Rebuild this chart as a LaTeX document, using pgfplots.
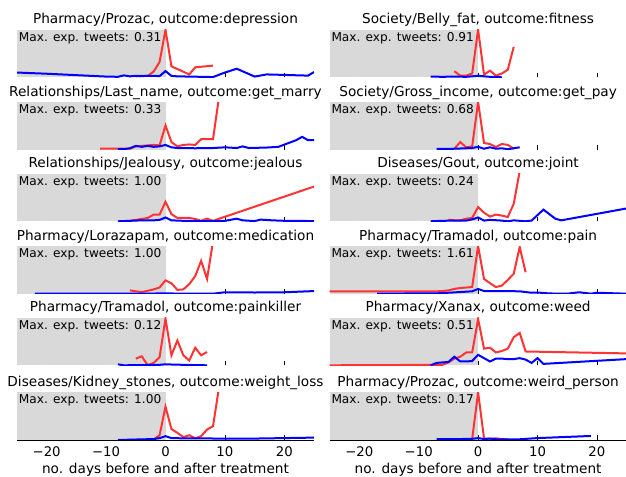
\documentclass[border=0pt]{standalone}
\usepackage{fontspec}
\setmainfont{DejaVu Sans}
\usepackage{pgfplots}
\pgfplotsset{compat=1.18}
\definecolor{myred}{RGB}{255,51,51}
\definecolor{myblue}{RGB}{0,0,255}
\definecolor{shadegray}{RGB}{217,217,217}
\newcommand\fs{\fontsize{13.3}{16}\selectfont}
\newcommand\fsT{\fontsize{13.7}{16}\selectfont}
\newcommand\fsS{\fontsize{12.2}{15}\selectfont}
\pgfplotsset{
  panel/.style={
    scale only axis, width=297bp, height=47.6bp,
    xmin=-25, xmax=25, ymin=0, ymax=1,
    axis x line*=bottom, axis y line=none,
    xtick={-20,-10,0,10,20}, ytick=\empty,
    tick align=inside, major tick length=4.5bp,
    tick style={black, line width=0.8bp},
    every axis title shift=0pt,
    title style={at={(0.5,1)}, anchor=base, yshift=5.7bp, inner sep=0pt, font=\fsT},
    anchor=south west,
  },
  upper/.style={xticklabels={}, x axis line style={draw=none}},
  lower/.style={
    xticklabels={−20,−10,0,10,20},
    xticklabel style={inner sep=0pt, font=\fs, yshift=-6.7bp},
    xlabel={no. days before and after treatment},
    xlabel style={at={(0.5,0)}, anchor=base, yshift=-33bp, inner sep=0pt, font=\fsT},
    x axis line style={black, line width=0.8bp},
  },
  redl/.style={myred, line width=2bp},
  bluel/.style={myblue, line width=2bp},
}
\newcommand\shadearea{\addplot[fill=shadegray, draw=none] coordinates {(-25,1) (0,1)} \closedcycle;}
\newcommand\maxtxt[1]{\node[anchor=north west, inner sep=0pt, font=\fsS, xshift=1.7bp, yshift=-2.3bp] at (rel axis cs:0,1) {Max. exp. tweets: #1};}
\begin{document}
\begin{tikzpicture}
\useasboundingbox (0,0) rectangle (626bp,477bp);
% ---------------- left column ----------------
\begin{axis}[panel, upper, at={(17bp,399.7bp)}, title={Pharmacy/Prozac, outcome:depression}]
\shadearea
\addplot[redl] coordinates {(-5,0.02) (-4,0.03) (-3,0.03) (-2,0.12) (-1,0.32) (0,1.0) (1,0.23) (4,0.06) (5,0.21) (8,0.245)};
\addplot[bluel] coordinates {(-25,0.10) (-20,0.075) (-15,0.045) (-10,0.015) (-8,0.01) (-7,0.04) (-6,0.02) (-5,0.03) (-4,0.025) (-3,0.03) (-2,0.03) (-1,0.025) (0,0.13) (1,0.03) (2,0.02) (4,0.015) (6,0.01) (8,0.005) (10,0.1) (12,0.18) (15,0.015) (17,0.06) (20,0.05) (24,0.035) (25,0.11)};
\maxtxt{0.31}
\end{axis}
\begin{axis}[panel, upper, at={(17bp,327.3bp)}, title={Relationships/Last\_name, outcome:get\_marry}]
\shadearea
\addplot[redl] coordinates {(-11,0.02) (-10,0.02) (-9,0.02) (-8,0.02) (-7,0.02) (-6,0.02) (-5,0.07) (-4,0.08) (-3,0.09) (-2,0.1) (-1,0.09) (0,0.51) (1,0.16) (2,0.07) (3,0.1) (4,0.11) (5,0.1) (6,0.22) (7,0.22) (8,0.22) (9,1.1)};
\addplot[bluel] coordinates {(-8,0.01) (-7,0.01) (-6,0.03) (-5,0.08) (-4,0.06) (-3,0.08) (-2,0.06) (-1,0.07) (0,0.1) (1,0.05) (2,0.035) (5,0.03) (8,0.035) (10,0.05) (12,0.035) (13,0.07) (14,0.035) (17,0.045) (19,0.06) (22,0.2) (23,0.27) (24,0.2) (25,0.2)};
\maxtxt{0.33}
\end{axis}
\begin{axis}[panel, upper, at={(17bp,255.7bp)}, title={Relationships/Jealousy, outcome:jealous}]
\shadearea
\addplot[redl] coordinates {(-6,0.01) (-5,0.03) (-4,0.05) (-3,0.07) (-2,0.14) (-1,0.14) (0,0.41) (1,0.15) (2,0.07) (3,0.07) (4,0.07) (5,0.05) (6,0.01) (7,0.055) (8,0.01) (25,0.73)};
\addplot[bluel] coordinates {(-8,0.0) (-6,0.01) (-4,0.02) (-2,0.02) (-1,0.03) (0,0.08) (1,0.02) (3,0.01) (6,0.005) (9,0.005) (10,0.01) (12,0.055) (13,0.02) (15,0.005) (16,0.035) (18,0.02) (20,0.01) (25,0.005)};
\maxtxt{1.00}
\end{axis}
\begin{axis}[panel, upper, at={(17bp,183.3bp)}, title={Pharmacy/Lorazapam, outcome:medication}]
\shadearea
\addplot[redl] coordinates {(-6,0.07) (-5,0.05) (-4,0.035) (-3,0.06) (-2,0.09) (-1,0.13) (0,0.28) (1,0.22) (2,0.08) (3,0.09) (4,0.2) (5,0.37) (6,0.69) (7,0.31) (8,1.1)};
\addplot[bluel] coordinates {(-22,0.0) (-10,0.0) (0,0.005) (8,0.0) (10,0.03) (15,0.025) (20,0.03) (25,0.055)};
\maxtxt{1.00}
\end{axis}
\begin{axis}[panel, upper, at={(17bp,111.7bp)}, title={Pharmacy/Tramadol, outcome:painkiller}]
\shadearea
\addplot[redl] coordinates {(-5,0.14) (-4,0.19) (-3,0.0) (-2,0.05) (-1,0.17) (0,0.98) (1,0.21) (2,0.52) (3,0.21) (4,0.1) (5,0.37) (6,0.21) (7,0.28)};
\addplot[bluel] coordinates {(-8,0.02) (-7,0.0) (-4,0.005) (-1,0.01) (0,0.02) (3,0.01) (7,0.0)};
\maxtxt{0.12}
\end{axis}
\begin{axis}[panel, lower, at={(17bp,37bp)}, title={Diseases/Kidney\_stones, outcome:weight\_loss}]
\shadearea
\addplot[redl] coordinates {(-6,0.0) (-3,0.0) (-2,0.01) (-1,0.1) (0,0.70) (1,0.23) (2,0.15) (3,0.06) (4,0.1) (5,0.035) (6,0.08) (7,0.22) (8,0.29) (9,1.1)};
\addplot[bluel] coordinates {(-8,0.0) (-5,0.01) (-2,0.02) (-1,0.04) (0,0.08) (1,0.04) (3,0.035) (10,0.03) (15,0.03) (20,0.04) (25,0.05)};
\maxtxt{1.00}
\end{axis}
% ---------------- right column ----------------
\begin{axis}[panel, upper, at={(329.6bp,399.7bp)}, title={Society/Belly\_fat, outcome:fitness}]
\shadearea
\addplot[redl] coordinates {(-4,0.126) (-3,0.035) (-2,0.035) (-1,0.08) (0,1.0) (1,0.056) (2,0.14) (3,0.035) (4,0.08) (5,0.16) (6,0.64)};
\addplot[bluel] coordinates {(-8,0.015) (-6,0.01) (-4,0.015) (-2,0.01) (0,0.03) (2,0.01) (4,0.0)};
\maxtxt{0.91}
\end{axis}
\begin{axis}[panel, upper, at={(329.6bp,327.3bp)}, title={Society/Gross\_income, outcome:get\_pay}]
\shadearea
\addplot[redl] coordinates {(-4,0.02) (-3,0.16) (-2,0.05) (-1,0.07) (0,1.0) (1,0.14) (2,0.12) (3,0.056) (4,0.12) (5,0.1) (6,0.02)};
\addplot[bluel] coordinates {(-7,0.015) (-4,0.02) (-1,0.035) (0,0.06) (1,0.02) (2,0.05) (3,0.02) (4,0.03) (5,0.01) (6,0.03) (7,0.05)};
\maxtxt{0.68}
\end{axis}
\begin{axis}[panel, upper, at={(329.6bp,255.7bp)}, title={Diseases/Gout, outcome:joint}]
\shadearea
\addplot[redl] coordinates {(-5,0.035) (-4,0.02) (-3,0.02) (-2,0.055) (-1,0.07) (0,0.30) (1,0.18) (2,0.1) (3,0.14) (4,0.12) (5,0.09) (6,0.37) (7,1.05)};
\addplot[bluel] coordinates {(-8,0.0) (-6,0.01) (-4,0.015) (-2,0.015) (-1,0.04) (0,0.08) (1,0.015) (2,0.03) (4,0.015) (5,0.0) (6,0.02) (8,0.0) (9,0.015) (10,0.13) (11,0.245) (12,0.15) (13,0.055) (14,0.02) (25,0.27)};
\maxtxt{0.24}
\end{axis}
\begin{axis}[panel, upper, at={(329.6bp,183.3bp)}, title={Pharmacy/Tramadol, outcome:pain}]
\shadearea
\addplot[redl] coordinates {(-25,0.05) (-8,0.05) (-7,0.05) (-6,0.055) (-5,0.07) (-4,0.1) (-3,0.12) (-2,0.13) (-1,0.14) (0,1.0) (1,0.31) (2,0.22) (3,0.14) (4,0.17) (5,0.29) (6,0.42) (7,0.98) (8,0.45)};
\addplot[bluel] coordinates {(-17,0.0) (-6,0.01) (-5,0.02) (-3,0.035) (-1,0.05) (0,0.1) (1,0.056) (4,0.056) (7,0.05) (9,0.02) (10,0.025) (12,0.005) (15,0.0) (17,0.03) (19,0.0) (20,0.02) (25,0.0)};
\maxtxt{1.61}
\end{axis}
\begin{axis}[panel, upper, at={(329.6bp,111.7bp)}, title={Pharmacy/Xanax, outcome:weed}]
\shadearea
\addplot[redl] coordinates {(-25,0.0) (-6,0.01) (-5,0.06) (-4,0.14) (-3,0.18) (-2,0.27) (-1,0.27) (0,0.97) (1,0.35) (2,0.37) (3,0.27) (4,0.3) (5,0.35) (6,0.59) (7,0.68) (8,0.29) (25,0.25)};
\addplot[bluel] coordinates {(-8,0.0) (-7,0.05) (-6,0.06) (-5,0.07) (-4,0.18) (-3,0.08) (-2,0.08) (-1,0.09) (0,0.22) (1,0.15) (2,0.08) (3,0.14) (4,0.14) (5,0.13) (6,0.13) (7,0.15) (8,0.12) (9,0.05) (10,0.15) (11,0.03) (25,0.13)};
\maxtxt{0.51}
\end{axis}
\begin{axis}[panel, lower, at={(329.6bp,37bp)}, title={Pharmacy/Prozac, outcome:weird\_person}]
\shadearea
\addplot[redl] coordinates {(-2,0.01) (-1,0.02) (0,1.0) (1,0.03) (2,0.025) (3,0.035) (4,0.02) (5,0.01)};
\addplot[bluel] coordinates {(-7,0.02) (-5,0.02) (-3,0.02) (-1,0.025) (0,0.04) (1,0.02) (2,0.03) (3,0.015) (5,0.015) (7,0.015) (10,0.04) (19,0.085)};
\maxtxt{0.17}
\end{axis}
\end{tikzpicture}
\end{document}
